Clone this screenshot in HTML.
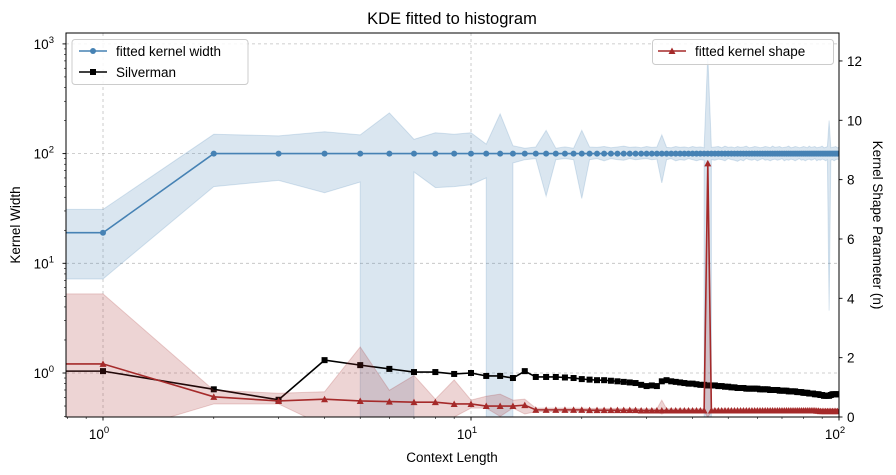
<!DOCTYPE html>
<html><head><meta charset="utf-8"><style>
html,body{margin:0;background:#fff;overflow:hidden;width:896px;height:475px;}
svg{display:block;font-family:"Liberation Sans","DejaVu Sans",sans-serif;}
</style></head><body>
<svg id="chart" width="896" height="475"></svg>
<script>
const ctx=[0.5];for(let i=1;i<=100;i++)ctx.push(i);
const widthVals=[19,19,100,100,100,100,100,100,100,100,100,100,100,100,100,100,100,100,100,100,100,100,100,100,100,100,100,100,100,100,100,100,100,100,100,100,100,100,100,100,100,100,100,100,100,100,100,100,100,100,100,100,100,100,100,100,100,100,100,100,100,100,100,100,100,100,100,100,100,100,100,100,100,100,100,100,100,100,100,100,100,100,100,100,100,100,100,100,100,100,100,100,100,100,100,100,100,100,100,100,100];
const widthLo=[7.2,7.2,50,57,44,55,null,68,49,50,52,60,null,82,88,90,41,88,90,88,39,88,90,86,90,88,87,90,88,89,90,88,89,54,88,90,86,88,87,90,88,86,88,87,null,88,87,89,88,86,90,88,87,85,88,86,90,88,87,89,86,88,90,87,88,86,88,89,87,88,90,86,88,87,89,88,86,88,90,87,88,86,88,89,87,88,90,86,88,87,89,88,86,88,3.7,87,88,86,88,89,88];
const widthHi=[31,31,150,145,158,148,235,135,155,150,155,122,230,118,112,115,163,112,115,112,163,115,114,116,113,115,117,114,115,113,116,114,115,148,114,113,116,114,115,113,116,114,115,113,800,114,115,116,113,117,114,115,113,116,114,115,117,113,114,116,115,113,114,116,115,113,117,114,115,116,113,114,115,117,113,114,116,115,113,114,116,115,113,117,114,115,116,113,114,115,117,113,114,116,200,113,114,115,116,113,114];
const silverman=[1.04,1.04,0.71,0.57,1.31,1.18,1.09,1.02,1.02,0.98,1.0,0.94,0.94,0.9,1.04,0.92,0.92,0.92,0.91,0.9,0.88,0.87,0.86,0.86,0.85,0.84,0.83,0.82,0.81,0.78,0.76,0.77,0.76,0.84,0.86,0.84,0.83,0.82,0.81,0.8,0.8,0.79,0.78,0.78,0.77,0.77,0.77,0.76,0.76,0.75,0.75,0.74,0.74,0.73,0.73,0.73,0.72,0.72,0.72,0.72,0.72,0.71,0.71,0.71,0.71,0.7,0.7,0.7,0.7,0.69,0.69,0.69,0.69,0.68,0.68,0.68,0.68,0.67,0.67,0.67,0.66,0.66,0.66,0.65,0.65,0.65,0.64,0.64,0.64,0.63,0.63,0.62,0.62,0.62,0.62,0.63,0.64,0.64,0.64,0.64,0.64];
const shapeVals=[1.79,1.79,0.68,0.54,0.6,0.54,0.52,0.5,0.5,0.44,0.44,0.37,0.37,0.37,0.4,0.24,0.24,0.24,0.24,0.24,0.24,0.23,0.23,0.23,0.23,0.23,0.23,0.23,0.23,0.22,0.22,0.22,0.22,0.22,0.22,0.22,0.22,0.22,0.22,0.22,0.22,0.22,0.22,0.22,8.55,0.22,0.22,0.22,0.22,0.22,0.22,0.22,0.22,0.22,0.22,0.22,0.22,0.22,0.22,0.22,0.22,0.22,0.22,0.22,0.22,0.22,0.22,0.22,0.22,0.22,0.22,0.22,0.22,0.22,0.22,0.22,0.22,0.22,0.22,0.22,0.22,0.22,0.22,0.22,0.22,0.22,0.22,0.21,0.21,0.2,0.2,0.2,0.2,0.2,0.2,0.2,0.2,0.2,0.2,0.2,0.2];
const shapeLo=[-1.5,-1.5,0.44,0.44,-0.3,-0.5,0.0,-0.3,0.0,0.0,0.3,0.3,0.02,0.3,0.1,0.18,0.18,0.18,0.18,0.18,0.18,0.18,0.18,0.18,0.18,0.18,0.18,0.18,0.18,0.17,0.17,0.17,0.17,0.1,0.17,0.17,0.17,0.17,0.17,0.17,0.17,0.17,0.17,0.17,0,0.17,0.17,0.17,0.17,0.17,0.17,0.17,0.17,0.17,0.17,0.17,0.17,0.17,0.17,0.17,0.17,0.17,0.17,0.17,0.17,0.17,0.17,0.17,0.17,0.17,0.17,0.17,0.17,0.17,0.17,0.17,0.17,0.17,0.17,0.17,0.17,0.17,0.17,0.17,0.17,0.17,0.17,0.16,0.16,0.15,0.15,0.15,0.15,0.15,0.15,0.15,0.15,0.15,0.15,0.15,0.15];
const shapeHi=[4.15,4.15,0.9,0.8,0.85,2.36,0.9,1.4,0.6,1.25,0.57,0.7,0.77,0.57,0.6,0.3,0.3,0.3,0.3,0.3,0.3,0.29,0.29,0.29,0.29,0.29,0.29,0.29,0.29,0.28,0.28,0.28,0.28,0.57,0.28,0.28,0.28,0.28,0.28,0.28,0.28,0.28,0.28,0.28,8.6,0.28,0.28,0.28,0.28,0.28,0.28,0.28,0.28,0.28,0.28,0.28,0.28,0.28,0.28,0.28,0.28,0.28,0.28,0.28,0.28,0.28,0.28,0.28,0.28,0.28,0.28,0.28,0.28,0.28,0.28,0.28,0.28,0.28,0.28,0.28,0.28,0.28,0.28,0.28,0.28,0.28,0.27,0.27,0.26,0.26,0.26,0.26,0.26,0.26,0.26,0.26,0.26,0.26,0.26,0.26];
const xTicks=[1,10,100];
const yTicks=[1,10,100,1000];
const rTicks=[0,2,4,6,8,10,12];

const L=66,R=839,T=33,B=417;
const X=v=>103+368*Math.log10(v);
const Y=v=>373-109.7*Math.log10(v);
const RY=v=>417-29.67*v;
const NS="http://www.w3.org/2000/svg";
const svg=document.getElementById('chart');
function mk(tag,attrs,parent){const e=document.createElementNS(NS,tag);for(const k in attrs)e.setAttribute(k,attrs[k]);(parent||svg).appendChild(e);return e;}
const defs=mk('defs',{});
const cp=mk('clipPath',{id:'clip'},defs);mk('rect',{x:L,y:T,width:R-L,height:B-T},cp);

const grid=mk('g',{});


xTicks.forEach(v=>mk('line',{x1:X(v),x2:X(v),y1:T,y2:B,stroke:'#b0b0b0','stroke-width':0.8,'stroke-dasharray':'3,3',opacity:0.8},grid));
yTicks.forEach(v=>{const y=Y(v);if(y>T&&y<B)mk('line',{x1:L,x2:R,y1:y,y2:y,stroke:'#b0b0b0','stroke-width':0.8,'stroke-dasharray':'3,3',opacity:0.8},grid);});

const plot=mk('g',{'clip-path':'url(#clip)'});
function band(lo,hi,fy,fill,name){
  const bot=B+20;
  const pts=[];
  ctx.forEach((c,i)=>{const v=hi[i];if(typeof v==='number'&&isFinite(fy(v)))pts.push([X(c),fy(v)]);});
  for(let i=ctx.length-1;i>=0;i--){
    const x=X(ctx[i]);const v=lo[i];
    if(v===null||v===undefined){pts.push([x,bot]);continue;}
    if(i<ctx.length-1&&lo[i+1]===null)pts.push([x,bot]);
    let y=fy(v);if(!isFinite(y))y=bot;if(y>bot)y=bot;
    pts.push([x,y]);
    if(i>0&&lo[i-1]===null)pts.push([x,bot]);
  }
  const p=mk('polygon',{points:pts.map(q=>q[0].toFixed(2)+','+q[1].toFixed(2)).join(' '),fill:fill,stroke:fill,'stroke-width':1},plot);
  
  
}
function line(vals,fy,color,name){
  const d=ctx.map((c,i)=>(i?'L':'M')+X(c).toFixed(2)+','+fy(vals[i]).toFixed(2)).join('');
  const p=mk('path',{d:d,fill:'none',stroke:color,'stroke-width':1.6},plot);
  
  
}
band(widthLo,widthHi,Y,'rgba(70,130,180,0.2)','kernel-width-band');
line(widthVals,Y,'#4682b4','kernel-width-line');
ctx.forEach((c,i)=>{const m=mk('circle',{cx:X(c),cy:Y(widthVals[i]),r:3,fill:'#4682b4'},plot);
  
  });
line(silverman,Y,'#000','silverman-line');
ctx.forEach((c,i)=>{const m=mk('rect',{x:X(c)-3,y:Y(silverman[i])-3,width:6,height:6,fill:'#000'},plot);
  
  });
band(shapeLo,shapeHi,RY,'rgba(165,42,42,0.2)','kernel-shape-band');
line(shapeVals,RY,'#a52a2a','kernel-shape-line');
ctx.forEach((c,i)=>{const x=X(c),y=RY(shapeVals[i]);const m=mk('path',{d:`M${x},${y-3.5}L${x+3.5},${y+3}L${x-3.5},${y+3}Z`,fill:'#a52a2a'},plot);
  
  });

mk('rect',{x:L,y:T,width:R-L,height:B-T,fill:'none',stroke:'#000','stroke-width':1});
const ax=mk('g',{});


for(let d=0.1;d<=100;d*=10){for(let k=1;k<=9;k++){const v=d*k;const x=X(v);if(x<L-0.5||x>R+0.5)continue;const major=k===1;
  mk('line',{x1:x,x2:x,y1:B,y2:B+(major?3.5:2),stroke:'#000','stroke-width':major?0.9:0.6},ax);}}
xTicks.forEach(v=>{const t=mk('text',{x:X(v)-4,y:B+22,'font-size':13.5,'text-anchor':'middle'},ax);t.textContent='10';
  const s=mk('tspan',{dy:-6,'font-size':9.5},t);s.textContent=String(Math.round(Math.log10(v)));});
const xl=mk('text',{x:452,y:462,'font-size':13.5,'text-anchor':'middle'});xl.textContent='Context Length';

const ay=mk('g',{});


for(let d=0.1;d<=1000;d*=10){for(let k=1;k<=9;k++){const v=d*k;const y=Y(v);if(y<T-0.5||y>B+0.5)continue;const major=k===1;
  mk('line',{x1:L,x2:L-(major?3.5:2),y1:y,y2:y,stroke:'#000','stroke-width':major?0.9:0.6},ay);}}
yTicks.forEach(v=>{const t=mk('text',{x:L-12,y:Y(v)+5,'font-size':13.5,'text-anchor':'end'},ay);t.textContent='10';
  const s=mk('tspan',{dy:-6,'font-size':9.5},t);s.textContent=String(Math.round(Math.log10(v)));});
const yl=mk('text',{x:0,y:0,'font-size':13.5,'text-anchor':'middle',transform:'translate(20,225) rotate(-90)'});yl.textContent='Kernel Width';

const ar=mk('g',{});


rTicks.forEach(v=>{const y=RY(v);mk('line',{x1:R,x2:R+3.5,y1:y,y2:y,stroke:'#000','stroke-width':0.9},ar);
  const t=mk('text',{x:R+8,y:y+5,'font-size':13.5},ar);t.textContent=v;});
const rl=mk('text',{x:0,y:0,'font-size':13.5,'text-anchor':'middle',transform:'translate(873,225) rotate(90)'});rl.textContent='Kernel Shape Parameter (n)';

const ti=mk('text',{x:452,y:24,'font-size':16.5,'text-anchor':'middle'});ti.textContent='KDE fitted to histogram';


const lg=mk('g',{});


mk('rect',{x:72,y:39.5,width:176,height:45,rx:3,fill:'#fff','fill-opacity':0.85,stroke:'#ccc'},lg);
mk('line',{x1:79,x2:107,y1:51,y2:51,stroke:'#4682b4','stroke-width':1.6},lg);
mk('circle',{cx:93,cy:51,r:3,fill:'#4682b4'},lg);
let t=mk('text',{x:116,y:56,'font-size':13.5},lg);t.textContent='fitted kernel width';

mk('line',{x1:79,x2:107,y1:72,y2:72,stroke:'#000','stroke-width':1.6},lg);
mk('rect',{x:90,y:69,width:6,height:6,fill:'#000'},lg);
t=mk('text',{x:116,y:77,'font-size':13.5},lg);t.textContent='Silverman';

const rg=mk('g',{});


mk('rect',{x:652.5,y:39.5,width:181,height:25,rx:3,fill:'#fff','fill-opacity':0.85,stroke:'#ccc'},rg);
mk('line',{x1:658,x2:686,y1:51,y2:51,stroke:'#a52a2a','stroke-width':1.6},rg);
mk('path',{d:'M672,47.5L675.5,54L668.5,54Z',fill:'#a52a2a'},rg);
t=mk('text',{x:695,y:56,'font-size':13.5},rg);t.textContent='fitted kernel shape';

</script>
</body></html>
